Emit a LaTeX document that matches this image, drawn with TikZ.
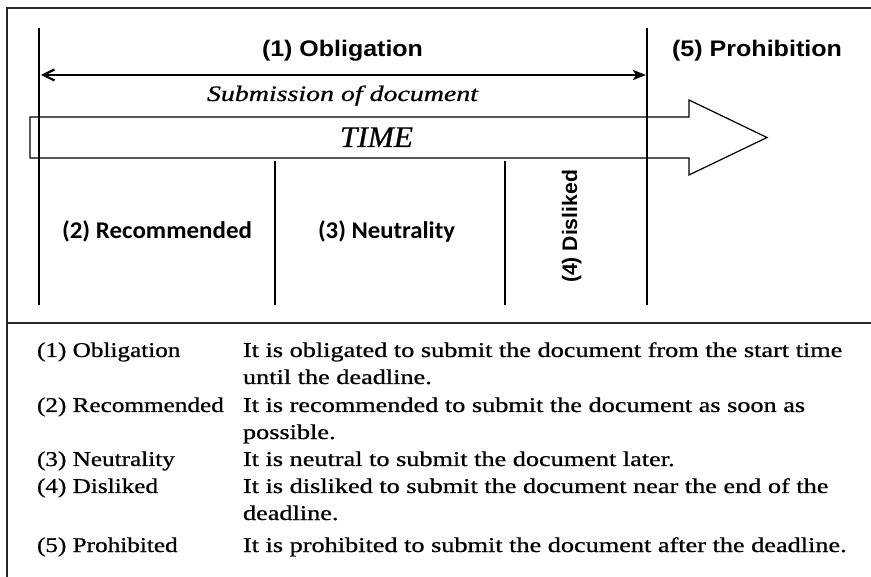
\documentclass[tikz,border=0pt]{standalone}
\usepackage{graphicx}
\usepackage{fontspec}
\setmainfont{Liberation Serif}
\newfontfamily\legf[FakeBold=0.7]{Liberation Serif}
\newfontfamily\arialf{Liberation Sans}
\newfontfamily\carlf{Carlito}
\usetikzlibrary{arrows.meta}
\newcommand{\Xs}[1]{\scalebox{1.25}[1]{#1}}
\newcommand{\Xl}[1]{\scalebox{1.2}[1]{#1}}
\newcommand{\Rw}[2]{\resizebox{#1}{\height}{#2}}
\begin{document}
\begin{tikzpicture}[x=1pt,y=-1pt,
  frame/.style={line width=1.8pt, black!85},
  vline/.style={line width=1.2pt},
  lbl/.style={inner sep=0pt, outer sep=0pt},
  leg/.style={lbl, anchor=base west, font=\legf\fontsize{21}{25}\selectfont},
  ]
\useasboundingbox (0,0) rectangle (871,577);
% frame
\coordinate (fTR) at (871,8);
\coordinate (fTL) at (7,8);
\coordinate (fBL) at (7,577);
\coordinate (sL) at (7,323);
\coordinate (sR) at (871,323);
\draw[frame] (fTR) -- (fTL) -- (fBL);
\draw[frame] (sL) -- (sR);
% block arrow (TIME)
\draw[line width=1.2pt] (30,117) -- (689,117) -- (689,100) -- (767,137.5) -- (689,175) -- (689,158) -- (30,158) -- cycle;
% vertical lines
\coordinate (v1t) at (39,28);  \coordinate (v1b) at (39,305);
\coordinate (v4t) at (647,28); \coordinate (v4b) at (647,305);
\coordinate (v2t) at (275,161); \coordinate (v2b) at (275,305);
\coordinate (v3t) at (505,161); \coordinate (v3b) at (505,305);
\draw[vline] (v1t) -- (v1b);
\draw[vline] (v4t) -- (v4b);
\draw[vline] (v2t) -- (v2b);
\draw[vline] (v3t) -- (v3b);
% double arrow
\coordinate (aL) at (41,75);
\coordinate (aR) at (646,75);
\draw[line width=2.2pt, {Straight Barb[length=11pt,width=11pt]}-{Stealth[length=13pt,width=10pt,inset=3pt]}] (aL) -- (aR);
% top labels
\node[lbl, anchor=base west] (ob) at (262,57) {\Rw{161pt}{\arialf\bfseries\fontsize{22.5}{26}\selectfont (1) Obligation}};
\node[lbl, anchor=base west] (pr) at (672,57) {\Rw{170pt}{\arialf\bfseries\fontsize{22.5}{26}\selectfont (5) Prohibition}};
\node[lbl, anchor=base west] (sub) at (207,101) {\Rw{271pt}{\legf\itshape\fontsize{22}{25}\selectfont Submission of document}};
\node[lbl, anchor=base west] (time) at (340,147) {\Rw{73pt}{\legf\itshape\fontsize{30}{34}\selectfont TIME}};
\node[lbl, anchor=base west] (rec) at (62,239) {\Rw{190pt}{\carlf\bfseries\fontsize{24}{28}\selectfont (2) Recommended}};
\node[lbl, anchor=base west] (neu) at (318,239) {\Rw{137pt}{\carlf\bfseries\fontsize{24}{28}\selectfont (3) Neutrality}};
\node[lbl, anchor=base, rotate=90] (dis) at (577,226.5) {\Rw{113pt}{\arialf\bfseries\fontsize{21}{25}\selectfont (4) Disliked}};
% legend
\node[leg] (l1) at (37,357) {\Xl{(1) Obligation}};
\node[leg] (l2) at (37,412) {\Xl{(2) Recommended}};
\node[leg] (l3) at (37,466) {\Xl{(3) Neutrality}};
\node[leg] (l4) at (37,493) {\Xl{(4) Disliked}};
\node[leg] (l5) at (37,552) {\Xl{(5) Prohibited}};
\node[leg] (d1a) at (243,357) {\Xs{It is obligated to submit the document from the start time}};
\node[leg] (d1b) at (243,384) {\Xs{until the deadline.}};
\node[leg] (d2a) at (243,412) {\Xs{It is recommended to submit the document as soon as}};
\node[leg] (d2b) at (243,439) {\Xs{possible.}};
\node[leg] (d3) at (243,466) {\Xs{It is neutral to submit the document later.}};
\node[leg] (d4a) at (243,493) {\Xs{It is disliked to submit the document near the end of the}};
\node[leg] (d4b) at (243,520) {\Xs{deadline.}};
\node[leg] (d5) at (243,552) {\Xs{It is prohibited to submit the document after the deadline.}};
\end{tikzpicture}
\end{document}
